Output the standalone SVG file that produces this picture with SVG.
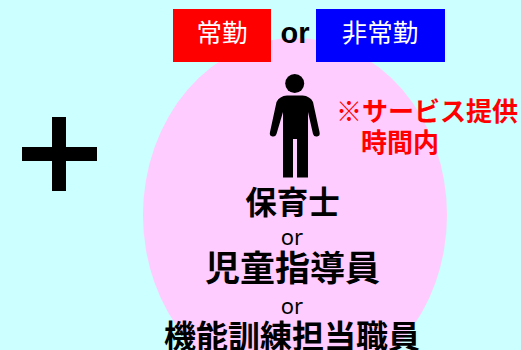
<svg xmlns="http://www.w3.org/2000/svg" width="521" height="350" viewBox="0 0 521 350">
<style>
text{font-family:"Noto Sans CJK JP","Noto Sans",sans-serif;text-anchor:middle}
.b{font-weight:700;fill:#000}
.w{fill:#fff;font-size:25.500px}
.r{font-weight:700;fill:#f00;font-size:26px}
.o{font-family:"Noto Sans",sans-serif;font-size:22px;fill:#000}
</style>
<rect width="521" height="350" fill="#ccffff"/>
<ellipse id="circle" cx="295" cy="215" rx="152" ry="177" fill="#ffccff"/>
<g id="plus" fill="#000"><rect x="22" y="147" width="75" height="14"/><rect x="52" y="117" width="14" height="74"/></g>
<g id="joukin"><rect x="173" y="9" width="98" height="53" fill="#f00"/><text class="w" x="222" y="42">常勤</text></g>
<text class="b" x="295" y="43" style="font-family:'Liberation Sans',sans-serif;font-size:29px">or</text>
<g id="hijoukin"><rect x="316" y="9" width="129" height="53" fill="#00f"/><text class="w" x="380" y="42">非常勤</text></g>
<g id="person" fill="#000">
<circle cx="294.700" cy="83.500" r="9.500"/>
<path d="M287 95.500H302.500Q310 96 313 102L319.500 132Q320.500 136 317 136.500Q314 137 313 134L308 112V177.500H297V139H293V177.500H283V112L276.500 134Q275.500 137 272.500 136.500Q269 136 270 132L276.500 102Q279.500 96 287 95.500Z"/>
</g>
<g id="note"><text class="r" x="427" y="121">※サービス提供</text><text class="r" x="400" y="152">時間内</text></g>
<g id="roles">
<text class="b" x="292.500" y="214" font-size="31.500">保育士</text>
<text class="o" x="292" y="245">or</text>
<text class="b" x="292.500" y="281" font-size="35">児童指導員</text>
<text class="o" x="292" y="314">or</text>
<text class="b" x="292" y="348" font-size="32">機能訓練担当職員</text>
</g>
</svg>
